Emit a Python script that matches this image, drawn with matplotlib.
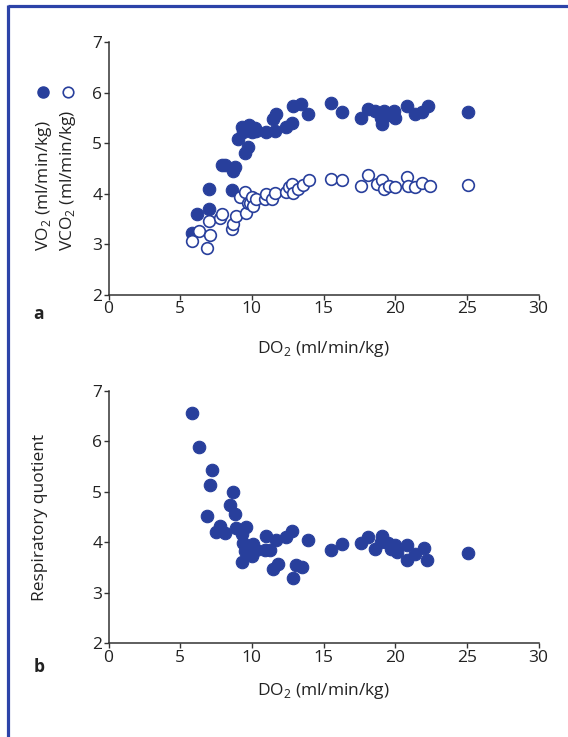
import matplotlib
matplotlib.use('Agg')
import matplotlib.pyplot as plt
from matplotlib.lines import Line2D

plt.rcParams['font.family'] = ['Open Sans', 'DejaVu Sans']
plt.rcParams['mathtext.fontset'] = 'custom'
plt.rcParams['mathtext.rm'] = 'Open Sans'

BLUE = '#283f9c'

# panel a: VO2 (filled) and VCO2 (open) against DO2
vo2_x = [5.8, 6.2, 7.0, 7.0, 7.9, 8.1, 8.8, 8.7, 8.6,
         9.0, 9.3, 9.8, 9.4, 10.0, 10.2, 9.7, 9.5, 9.6, 10.3,
         11.0, 11.6, 11.5, 11.7, 12.4, 12.8, 12.9, 13.4, 13.9,
         15.5, 16.3, 17.6, 18.1, 18.6, 19.2, 19.0, 19.1, 19.5, 19.9, 20.0,
         20.8, 21.4, 21.9, 22.3, 25.1]
vo2_y = [3.23, 3.61, 4.09, 3.71, 4.58, 4.58, 4.54, 4.45, 4.07,
         5.09, 5.33, 5.36, 5.23, 5.23, 5.30, 4.93, 4.81, 5.28, 5.25,
         5.23, 5.25, 5.49, 5.59, 5.33, 5.41, 5.73, 5.77, 5.59,
         5.79, 5.63, 5.51, 5.69, 5.65, 5.65, 5.51, 5.39, 5.56, 5.65, 5.51,
         5.73, 5.59, 5.63, 5.73, 5.63]

vco2_x = [5.8, 6.3, 6.9, 7.1, 7.0, 7.8, 7.9, 8.6, 8.7, 8.9,
          9.2, 9.5, 9.6, 9.7, 9.9, 10.0, 10.1, 10.3, 10.9, 11.0,
          11.4, 11.6, 12.4, 12.6, 12.8, 12.9, 13.2, 13.6, 14.0, 15.5,
          16.3, 17.6, 18.1, 18.7, 19.1, 19.2, 19.6, 20.0, 20.8, 20.9,
          21.4, 21.9, 22.4, 25.1]
vco2_y = [3.06, 3.27, 2.93, 3.18, 3.46, 3.53, 3.61, 3.31, 3.41, 3.56,
          3.93, 4.03, 3.63, 3.83, 3.83, 3.93, 3.76, 3.90, 3.89, 3.99,
          3.89, 4.01, 4.03, 4.14, 4.19, 4.01, 4.09, 4.17, 4.28, 4.30,
          4.27, 4.16, 4.37, 4.19, 4.27, 4.09, 4.16, 4.14, 4.34, 4.16,
          4.14, 4.21, 4.16, 4.18]

# panel b: respiratory quotient
rq_x = [5.8, 6.3, 7.2, 7.1, 6.9, 8.7, 8.5, 8.8, 7.8, 7.5,
        8.1, 8.9, 9.6, 9.3, 9.4, 10.1, 9.5, 10.0, 10.3, 9.3,
        11.0, 11.7, 10.9, 11.3, 11.5, 11.8, 12.4, 12.8, 13.1, 13.5,
        12.9, 13.9, 15.5, 16.3, 17.6, 18.1, 18.6, 19.1, 19.0, 19.5,
        19.7, 20.0, 20.1, 20.8, 20.8, 21.4, 22.0, 22.2, 25.1]
rq_y = [6.55, 5.89, 5.44, 5.13, 4.52, 4.99, 4.73, 4.55, 4.32, 4.21,
        4.19, 4.29, 4.31, 4.17, 3.99, 3.96, 3.82, 3.72, 3.84, 3.61,
        4.12, 4.05, 3.85, 3.84, 3.47, 3.57, 4.11, 4.23, 3.54, 3.51,
        3.29, 4.05, 3.85, 3.97, 3.99, 4.11, 3.87, 4.12, 4.01, 3.99,
        3.87, 3.94, 3.81, 3.95, 3.65, 3.76, 3.89, 3.64, 3.79]

x_ticks = [0, 5, 10, 15, 20, 25, 30]
y_ticks = [2, 3, 4, 5, 6, 7]
xlabel = r'DO$_\mathregular{2}$ (ml/min/kg)'

FS = 12.5
TXT = '#222222'
W, H = 568, 737
fig = plt.figure(figsize=(W / 100, H / 100), dpi=100)
ax1 = fig.add_axes([108.5 / W, 1 - 295 / H, 430 / W, 252.7 / H])
ax2 = fig.add_axes([108.5 / W, 1 - 643.3 / H, 430 / W, 252.6 / H])

MS = 9
ax1.plot(vo2_x, vo2_y, 'o', ms=MS, color=BLUE, mec=BLUE, mew=0.8, clip_on=False, zorder=3)
ax1.plot(vco2_x, vco2_y, 'o', ms=MS - 0.6, mfc='white', mec=BLUE, mew=1.2, clip_on=False, zorder=4)
ax2.plot(rq_x, rq_y, 'o', ms=MS, color=BLUE, mec=BLUE, mew=0.8, clip_on=False, zorder=3)

for ax in (ax1, ax2):
    ax.set_xlim(0, 30)
    ax.set_ylim(2, 7)
    ax.set_xticks(x_ticks)
    ax.set_yticks(y_ticks)
    for s in ('top', 'right'):
        ax.spines[s].set_visible(False)
    for s in ('left', 'bottom'):
        ax.spines[s].set_linewidth(1.1)
        ax.spines[s].set_color('#333333')
    ax.tick_params(direction='out', length=3.5, width=1.0, color='#333333',
                   labelsize=FS, pad=1.0, labelcolor=TXT)
    ax.set_xlabel(xlabel, fontsize=FS, color=TXT)

ax1.xaxis.set_label_coords(0.5, -0.176)
ax2.xaxis.set_label_coords(0.5, -0.150)

fig.text(40 / W, 1 - 517 / H, 'Respiratory quotient', rotation=90,
         ha='center', va='center', fontsize=FS, color=TXT)

# two-line y label of panel a with marker keys
fig.text(43.5 / W, 1 - 251 / H, r'VO$_\mathregular{2}$ (ml/min/kg)', rotation=90,
         ha='center', va='bottom', fontsize=FS, color=TXT)
fig.text(68 / W, 1 - 251 / H, r'VCO$_\mathregular{2}$ (ml/min/kg)', rotation=90,
         ha='center', va='bottom', fontsize=FS, color=TXT)
fig.add_artist(Line2D([42.7 / W], [1 - 92 / H], marker='o', ms=8, color=BLUE, ls='none',
                      transform=fig.transFigure))
fig.add_artist(Line2D([67.5 / W], [1 - 92 / H], marker='o', ms=7.6, mfc='white', mec=BLUE,
                      mew=1.2, ls='none', transform=fig.transFigure))

fig.text(39 / W, 1 - 314 / H, 'a', fontsize=12.5, fontweight='bold', ha='center', va='center', color=TXT)
fig.text(39 / W, 1 - 667 / H, 'b', fontsize=12.5, fontweight='bold', ha='center', va='center', color=TXT)

# blue frame on top and left
fig.add_artist(Line2D([8 / W, 1], [1 - 6 / H, 1 - 6 / H], lw=2.3, color='#2c43a8',
                      transform=fig.transFigure, solid_capstyle='butt'))
fig.add_artist(Line2D([8 / W, 8 / W], [1 - 5 / H, 0], lw=2.3, color='#2c43a8',
                      transform=fig.transFigure, solid_capstyle='butt'))

fig.savefig('out.png', dpi=100)
